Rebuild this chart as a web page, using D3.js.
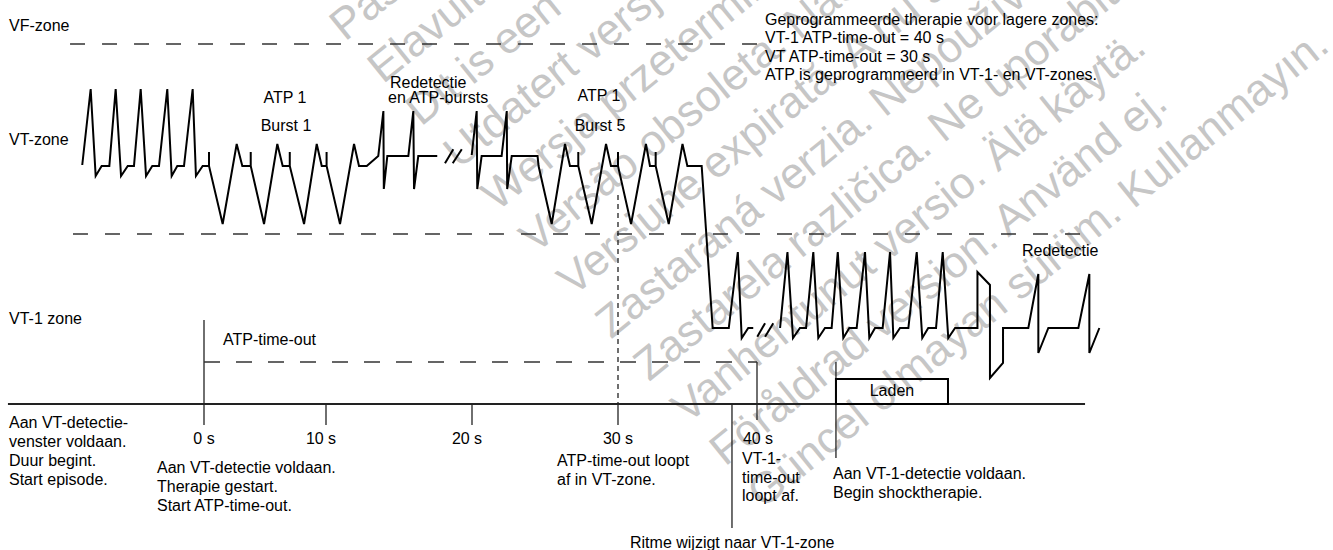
<!DOCTYPE html>
<html><head><meta charset="utf-8">
<script src="https://cdn.jsdelivr.net/npm/d3@7/dist/d3.min.js"></script>
<style>
body{margin:0;background:#fff}
text{font-family:"Liberation Sans",Arial,sans-serif;font-size:16px;fill:#000}
text.wm{font-size:44px;fill:#c6c6c6}
</style>
</head><body>
<svg id="chart" width="1333" height="550"></svg>
<script>
// ---------- DATA ----------
const zoneNames = ["VF-zone", "VT-zone", "VT-1 zone"];
const zoneBoundaries = [100, 52.5];           // level units
const tickValues = [0, 10, 20, 30, 40];       // seconds
const tickLabels = ["0 s", "10 s", "20 s", "30 s", "40 s"];

// ECG trace, segment 1 (time in s, level units)
const seg1Time = [-9.98,-9.29,-8.88,-8.39,-7.76,-7.24,-6.80,-6.25,-5.74,-5.19,-4.75,-4.24,-3.69,-3.01,-2.65,-2.19,-1.64,-0.93,-0.66,-0.11,
  0.41,0.41,0.41,1.53,2.68,3.14,3.83,3.83,3.83,4.92,6.01,6.45,7.03,7.03,7.03,8.20,9.24,9.65,10.04,10.04,10.04,10.96,11.92,12.26,12.79,
  13.58,13.93,13.96,14.20,15.64,15.98,16.03,16.32,17.62];
const seg1Level = [69.75,88.75,67,69.5,69.5,88.75,67,69.5,69.5,88.75,67,69.5,69.5,88.75,67,69.5,69.5,88.75,67,69.5,
  69.5,73,69.5,55,75,69.5,69.5,73,69.5,55,75,69.5,69.5,73,69.5,55,75,69.5,69.5,73,69.5,55,75,69.5,69.5,
  72,83.25,63.75,72,72,83.25,63.75,72,72];
// segment 2
const seg2Time = [19.98,20.32,20.36,20.66,22.03,22.38,22.41,22.72,24.49,24.56,25.46,26.37,26.71,27.28,27.28,27.28,28.20,29.18,29.52,
  30.0,30.0,30.0,30.94,32.01,32.30,32.71,32.71,32.71,33.65,34.64,34.99,36.02,36.81,37.97,38.62,38.90,39.37,39.73];
const seg2Level = [72.25,83.25,63.75,72,72,83.25,63.75,72,72,69.5,55,75,69.5,69.5,73,69.5,55,75,69.5,
  69.5,73,69.5,55,75,69.5,69.5,73,69.5,55,75,69.5,69.5,29,29,48,26.5,29,29];
// segment 3
const seg3Time = [41.66,42.19,42.59,43.09,43.53,44.05,44.41,44.89,45.37,45.81,46.21,46.64,47.17,47.77,48.08,48.49,49.04,49.57,49.81,
  50.29,50.89,51.49,51.89,52.32,52.88,53.36,53.76,54.25,55.86,55.86,56.76,56.76,57.70,57.70,59.52,60.24,60.24,60.96,63.12,63.91,63.91,64.63];
const seg3Level = [29,48,26.5,29,29,48,26.5,29,29,48,26.5,29,29,48,26.5,29,29,48,26.5,
  29,29,48,26.5,29,29,48,26.5,29,29,43,39.75,16.5,20.25,29,29,42.5,22.75,29,29,42.5,22.75,29];

// break marks "//" (start time, end time, low level, high level)
const breakStart = [18.15, 18.68, 40.02, 40.58];
const breakEnd   = [18.72, 19.30, 40.58, 41.17];
const breakLow   = [70.2, 70.2, 26.8, 26.8];
const breakHigh  = [73.7, 73.7, 30.2, 30.2];

// events on the time line
const atpTimeoutStart = 0, atpTimeoutEnd = 40, vtTimeoutExpire = 30;
const rhythmChange = 38.2;
const chargeStart = 45.68, chargeEnd = 53.74;

// watermark lines
const watermark = [
  "Pasenusi versija. Nenaudokite.",
  "Elavult verzió. Ne használja!",
  "Dit is een verouderde versie. Niet gebruiken.",
  "Utdatert versjon. Skal ikke brukes.",
  "Wersja przeterminowana. Nie używać.",
  "Versão obsoleta. Não utilize.",
  "Versiune expirată. A nu se utiliza.",
  "Zastaraná verzia. Nepoužívať.",
  "Zastarela različica. Ne uporabite.",
  "Vanhentunut versio. Älä käytä.",
  "Föråldrad version. Använd ej.",
  "Güncel olmayan sürüm. Kullanmayın."
];

// ---------- SCALES ----------
const svg = d3.select("#chart");
const x = d3.scaleLinear().domain(tickValues).range([204, 326, 472, 618, 757]);
const y = d3.scaleLinear().domain([0, 100]).range([444, 44]);

// ---------- WATERMARK (behind) ----------
svg.append("g").selectAll("text").data(watermark).join("text").attr("class", "wm")
  .attr("transform", (d, i) => `translate(${345 + i * 38},${42 + i * 42.5}) rotate(-39)`)
  .text(d => d);

// ---------- ZONE LINES ----------
svg.append("line").attr("x1", x(-10.98)).attr("x2", x(40.2))
  .attr("y1", y(zoneBoundaries[0])).attr("y2", y(zoneBoundaries[0]))
  .attr("stroke", "#333").attr("stroke-width", 1.6).attr("stroke-dasharray", "15,17");
svg.append("line").attr("x1", x(-10.74)).attr("x2", x(63.6))
  .attr("y1", y(zoneBoundaries[1])).attr("y2", y(zoneBoundaries[1]))
  .attr("stroke", "#333").attr("stroke-width", 1.6).attr("stroke-dasharray", "15,17");

const zoneY = [31, 145, 324];
svg.selectAll("text.zone").data(zoneNames).join("text").attr("class", "zone")
  .attr("x", 9).attr("y", (d, i) => zoneY[i]).text(d => d);

// ---------- TIME AXIS ----------
svg.append("line").attr("x1", x(-16.07)).attr("x2", x(63.6))
  .attr("y1", y(10)).attr("y2", y(10)).attr("stroke", "#222").attr("stroke-width", 1.8);

const labelShift = [0, -5, -5, 0, 1];
tickValues.forEach((t, i) => {
  let top = y(10), bot = y(4.75);
  if (t === atpTimeoutStart) top = y(31);
  if (t === atpTimeoutEnd) { top = y(20.5); bot = y(6); }
  svg.append("line").attr("x1", x(t)).attr("x2", x(t)).attr("y1", top).attr("y2", bot)
    .attr("stroke", "#222").attr("stroke-width", 1.3);
  svg.append("text").attr("x", x(t) + labelShift[i]).attr("y", 444).attr("text-anchor", "middle").text(tickLabels[i]);
});

svg.append("line").attr("x1", x(atpTimeoutStart)).attr("x2", x(atpTimeoutEnd))
  .attr("y1", y(20.5)).attr("y2", y(20.5))
  .attr("stroke", "#333").attr("stroke-width", 1.6).attr("stroke-dasharray", "16,16");
svg.append("line").attr("x1", x(vtTimeoutExpire)).attr("x2", x(vtTimeoutExpire))
  .attr("y1", y(62.25)).attr("y2", y(10))
  .attr("stroke", "#222").attr("stroke-width", 1.3).attr("stroke-dasharray", "5,4");
svg.append("line").attr("x1", x(rhythmChange)).attr("x2", x(rhythmChange))
  .attr("y1", y(10)).attr("y2", y(-21)).attr("stroke", "#222").attr("stroke-width", 1.3);
svg.append("line").attr("x1", x(chargeStart)).attr("x2", x(chargeStart))
  .attr("y1", y(20.5)).attr("y2", y(-3.5)).attr("stroke", "#222").attr("stroke-width", 1.3);
svg.append("rect").attr("x", x(chargeStart)).attr("y", y(16.25))
  .attr("width", x(chargeEnd) - x(chargeStart)).attr("height", y(10) - y(16.25))
  .attr("fill", "none").attr("stroke", "#000").attr("stroke-width", 2);
svg.append("text").attr("x", (x(chargeStart) + x(chargeEnd)) / 2).attr("y", 396)
  .attr("text-anchor", "middle").text("Laden");

// ---------- TRACE ----------
const line = d3.line().x(d => x(d[0])).y(d => y(d[1]));
[[seg1Time, seg1Level], [seg2Time, seg2Level], [seg3Time, seg3Level]].forEach(([T, L]) => {
  svg.append("path").attr("d", line(T.map((t, i) => [t, L[i]])))
    .attr("fill", "none").attr("stroke", "#000").attr("stroke-width", 2).attr("stroke-linejoin", "miter");
});
breakStart.forEach((s, i) => {
  svg.append("line").attr("x1", x(s)).attr("y1", y(breakLow[i]))
    .attr("x2", x(breakEnd[i])).attr("y2", y(breakHigh[i]))
    .attr("stroke", "#000").attr("stroke-width", 2);
});

// ---------- ANNOTATIONS ----------
function block(lines, x0, y0, dy, anchor) {
  const t = svg.append("text").attr("x", x0).attr("y", y0).attr("text-anchor", anchor || "start");
  lines.forEach((s, i) => t.append("tspan").attr("x", x0).attr("y", y0 + i * dy).text(s));
}
block(["ATP 1"], 285, 103, 0, "middle");
block(["Burst 1"], 286, 131, 0, "middle");
block(["Redetectie"], 390, 88, 0);
block(["en ATP-bursts"], 388, 103, 0);
block(["ATP 1"], 599, 101, 0, "middle");
block(["Burst 5"], 600, 131, 0, "middle");
block(["Geprogrammeerde therapie voor lagere zones:", "VT-1 ATP-time-out = 40 s",
       "VT ATP-time-out = 30 s", "ATP is geprogrammeerd in VT-1- en VT-zones."], 765, 25, 18.4);
block(["Redetectie"], 1022, 256, 0);
block(["ATP-time-out"], 223, 345, 0);
block(["Aan VT-detectie-", "venster voldaan.", "Duur begint.", "Start episode."], 9, 428, 19);
block(["Aan VT-detectie voldaan.", "Therapie gestart.", "Start ATP-time-out."], 157, 473, 19);
block(["ATP-time-out loopt", "af in VT-zone."], 557, 466, 19);
block(["VT-1-", "time-out", "loopt af."], 742, 464, 18.5);
block(["Aan VT-1-detectie voldaan.", "Begin shocktherapie."], 833, 479, 19);
block(["Ritme wijzigt naar VT-1-zone"], 630, 548, 0);
</script>
</body></html>
